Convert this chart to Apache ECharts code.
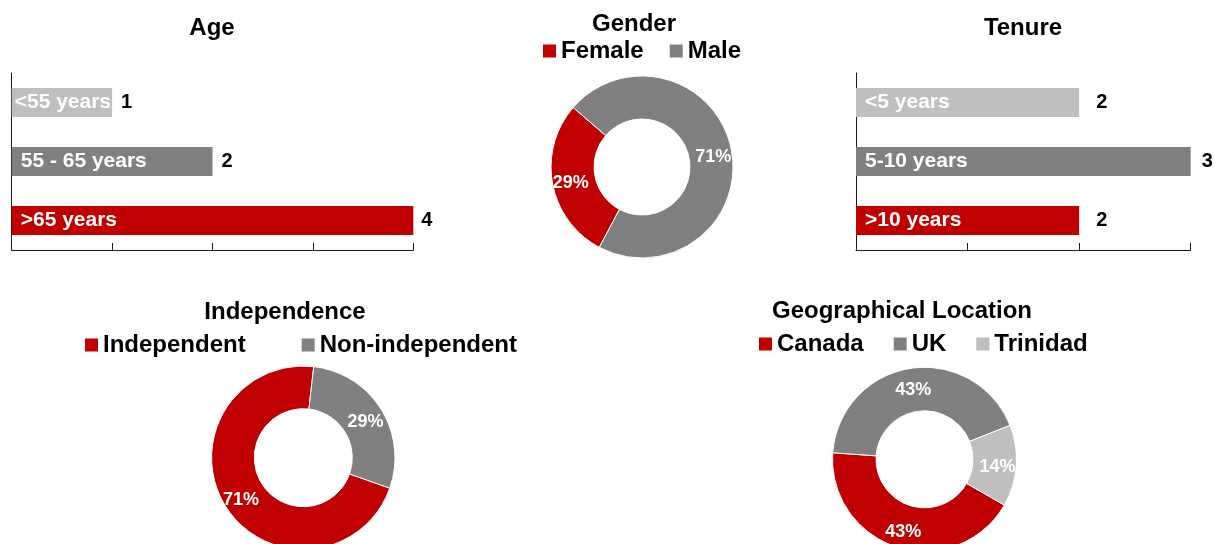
<!DOCTYPE html>
<html>
<head>
<meta charset="utf-8">
<script src="https://cdn.jsdelivr.net/npm/echarts@6/dist/echarts.min.js"></script>
<style>
  html, body { margin: 0; padding: 0; background: #fff; }
  #chart { width: 1214px; height: 544px; }
</style>
</head>
<body>
<div id="chart"></div>
<script>
// data
const ageCats = ["<55 years", "55 - 65 years", ">65 years"];
const ageVals = [1, 2, 4];
const tenureCats = ["<5 years", "5-10 years", ">10 years"];
const tenureVals = [2, 3, 2];
const genderNames = ["Female", "Male"];
const genderVals = [2, 5];
const indepNames = ["Independent", "Non-independent"];
const indepVals = [5, 2];
const geoNames = ["Canada", "UK", "Trinidad"];
const geoVals = [3, 3, 1];

const RED = "#C00000", GRAY = "#808080", LIGHT = "#BFBFBF";
const FONT = "'Liberation Sans', Arial, sans-serif";
const barColors = [LIGHT, GRAY, RED];

const el = document.getElementById("chart");
const chart = echarts.init(el);

function titleAt(text, x, y) {
    return {
        text, left: x, top: y, textAlign: "center", padding: 0,
        textStyle: { fontFamily: FONT, fontSize: 24, fontWeight: "bold", color: "#000" }
    };
}

function legendAt(names, x, y, gap) {
    return {
        data: names, left: x, top: y, orient: "horizontal", padding: 0,
        icon: "rect", itemWidth: 13, itemHeight: 13, itemGap: gap,
        itemStyle: { borderWidth: 0 },
        selectedMode: false,
        textStyle: { fontFamily: FONT, fontSize: 24, fontWeight: "bold", color: "#000" }
    };
}

function valueAxis(idx, max) {
    return {
        type: "value", gridIndex: idx, min: 0, max: max, interval: 1,
        axisLine: { show: true, lineStyle: { color: "#1a1a1a", width: 1 } },
        axisTick: { show: true, inside: true, length: 7, lineStyle: { color: "#1a1a1a" } },
        axisLabel: { show: false },
        splitLine: { show: false }
    };
}

function catAxis(idx, cats) {
    return {
        type: "category", gridIndex: idx, data: cats, inverse: true,
        axisLine: { show: true, lineStyle: { color: "#1a1a1a", width: 1 } },
        axisTick: { show: false },
        axisLabel: { show: false }
    };
}

// nameDist: per-bar tweak of the inside label, valDist: per-bar gap of the value label
function barSeries(idx, vals, nameDist, valDist) {
    return [
        {
            type: "bar", name: "bars" + idx, xAxisIndex: idx, yAxisIndex: idx,
            barWidth: 29,
            data: vals.map((v, i) => ({
                value: v,
                itemStyle: { color: barColors[i] },
                label: { distance: nameDist[i] }
            })),
            label: {
                show: true, position: "insideLeft", formatter: "{b}",
                fontFamily: FONT, fontSize: 21, fontWeight: "bold", color: "#fff"
            }
        },
        {
            type: "bar", name: "vals" + idx, xAxisIndex: idx, yAxisIndex: idx,
            barWidth: 29, barGap: "-100%",
            data: vals.map((v, i) => ({ value: v, label: { distance: valDist[i] } })),
            itemStyle: { color: "rgba(0,0,0,0)" },
            label: {
                show: true, position: "right", formatter: "{c}",
                fontFamily: FONT, fontSize: 20, fontWeight: "bold", color: "#000"
            },
            z: 3
        }
    ];
}

function pieSeries(names, vals, colors, center, radius, startAngle) {
    return {
        type: "pie", center: center, radius: radius, startAngle: startAngle,
        clockwise: true, percentPrecision: 0,
        avoidLabelOverlap: false,
        itemStyle: { borderColor: "#fff", borderWidth: 1 },
        label: {
            show: true, position: "inside", formatter: "{d}%", offset: [0, 3],
            fontFamily: FONT, fontSize: 18, fontWeight: "bold", color: "#fff"
        },
        labelLine: { show: false },
        data: names.map((n, i) => ({ name: n, value: vals[i], itemStyle: { color: colors[i] } }))
    };
}

const option = {
    animation: false,
    backgroundColor: "#fff",
    title: [
        titleAt("Age", 212, 16),
        titleAt("Gender", 634, 12),
        titleAt("Tenure", 1023, 16),
        titleAt("Independence", 285, 300),
        titleAt("Geographical Location", 902, 299)
    ],
    legend: [
        legendAt(genderNames, 543, 39, 26),
        legendAt(indepNames, 85, 333, 56),
        legendAt(geoNames, 759, 332, 30)
    ],
    grid: [
        { left: 11.7, top: 73, width: 401.6, height: 177 },
        { left: 856, top: 73, width: 334.7, height: 177 }
    ],
    xAxis: [valueAxis(0, 4), valueAxis(1, 3)],
    yAxis: [catAxis(0, ageCats), catAxis(1, tenureCats)],
    series: [
        ...barSeries(0, ageVals, [3, 9, 9], [9, 9, 8]),
        ...barSeries(1, tenureVals, [9, 9, 9], [17, 11, 17]),
        pieSeries(genderNames, genderVals, [RED, GRAY], [642, 167], [48, 91], 242),
        pieSeries(indepNames, indepVals, [RED, GRAY], [303.3, 457.7], [49, 91.7], 340.6),
        pieSeries(geoNames, geoVals, [RED, GRAY, LIGHT], [924.5, 459.3], [48.5, 92], 330.2)
    ]
};

chart.setOption(option);
window.addEventListener("resize", () => chart.resize());
</script>
</body>
</html>
